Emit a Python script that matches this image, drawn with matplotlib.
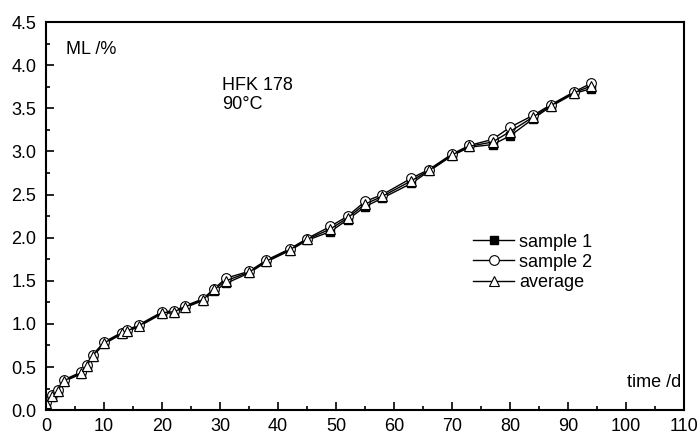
import matplotlib
matplotlib.use('Agg')

import matplotlib.pyplot as plt
from matplotlib.ticker import MultipleLocator

plt.rcParams['font.family'] = ['Liberation Sans', 'DejaVu Sans']

# data
days = [0, 1, 2, 3, 6, 7, 8, 10, 13, 14, 16, 20, 22, 24, 27, 29, 31, 35, 38,
        42, 45, 49, 52, 55, 58, 63, 66, 70, 73, 77, 80, 84, 87, 91, 94]
sample1 = [0.07, 0.15, 0.21, 0.33, 0.42, 0.50, 0.62, 0.77, 0.88, 0.91, 0.97,
           1.12, 1.13, 1.19, 1.27, 1.38, 1.47, 1.59, 1.72, 1.85, 1.97, 2.07,
           2.21, 2.36, 2.46, 2.63, 2.77, 2.95, 3.05, 3.08, 3.18, 3.38, 3.52,
           3.67, 3.73]
sample2 = [0.09, 0.17, 0.23, 0.35, 0.44, 0.52, 0.64, 0.79, 0.90, 0.93, 0.99,
           1.14, 1.15, 1.21, 1.29, 1.41, 1.53, 1.61, 1.74, 1.87, 1.99, 2.13,
           2.25, 2.42, 2.50, 2.69, 2.79, 2.97, 3.07, 3.14, 3.28, 3.42, 3.54,
           3.69, 3.79]
average = [0.08, 0.16, 0.22, 0.34, 0.43, 0.51, 0.63, 0.78, 0.89, 0.92, 0.98,
           1.13, 1.14, 1.20, 1.28, 1.40, 1.50, 1.60, 1.73, 1.86, 1.98, 2.10,
           2.23, 2.39, 2.48, 2.66, 2.78, 2.96, 3.06, 3.11, 3.23, 3.40, 3.53,
           3.68, 3.76]

FS = 13

fig = plt.figure(figsize=(7, 4.34), dpi=100)
ax = fig.add_axes([0.066, 0.055, 0.911, 0.894])

ax.plot(days, sample1, color='black', lw=1, marker='s', ms=6,
        mfc='black', mec='black', label='sample 1')
ax.plot(days, sample2, color='black', lw=1, marker='o', ms=7,
        mfc='white', mec='black', mew=0.8, label='sample 2')
ax.plot(days, average, color='black', lw=1, marker='^', ms=7.5,
        mfc='white', mec='black', mew=0.8, label='average')

ax.set_xlim(0, 110)
ax.set_ylim(0, 4.5)
ax.xaxis.set_major_locator(MultipleLocator(10))
ax.xaxis.set_minor_locator(MultipleLocator(5))
ax.yaxis.set_major_locator(MultipleLocator(0.5))
ax.yaxis.set_minor_locator(MultipleLocator(0.25))
ax.yaxis.set_major_formatter(matplotlib.ticker.FormatStrFormatter('%.1f'))

ax.tick_params(which='both', direction='in', top=False, right=False,
               labelsize=FS, width=1.2)
ax.tick_params(which='major', length=6)
ax.tick_params(which='minor', length=3)
ax.tick_params(axis='x', which='major', pad=6)
ax.tick_params(axis='y', which='major', pad=7)
for s in ax.spines.values():
    s.set_linewidth(1.5)

ax.text(3.5, 4.18, 'ML /%', fontsize=FS, va='center')
ax.text(30.3, 3.77, 'HFK 178', fontsize=FS, va='center')
ax.text(30.3, 3.54, '90°C', fontsize=FS, va='center')
ax.text(109.5, 0.32, 'time /d', fontsize=FS, ha='right', va='center')

ax.legend(loc='center left', bbox_to_anchor=(0.669, 0.381), frameon=False,
          fontsize=FS, handlelength=2.3, handletextpad=0.28,
          labelspacing=0.17, borderpad=0, borderaxespad=0)

fig.savefig('out.png', dpi=100)
